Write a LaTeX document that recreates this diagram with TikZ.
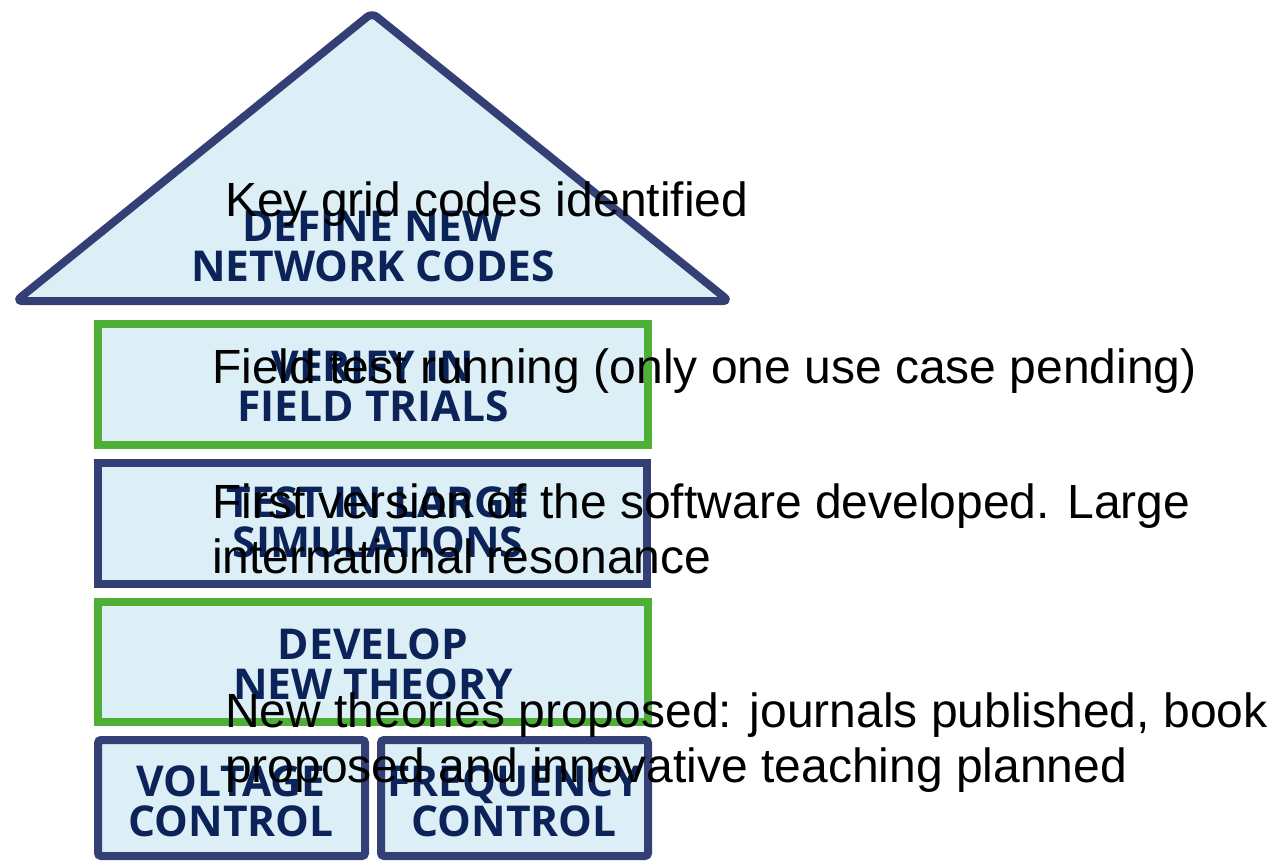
\documentclass[tikz,border=0pt]{standalone}
\usepackage{fontspec}
\setmainfont{Liberation Sans}
\newfontfamily\labelfont{Open Sans}
\definecolor{navyline}{HTML}{343F76}
\definecolor{greenline}{HTML}{4DAF35}
\definecolor{tierfill}{HTML}{DDEFF6}
\definecolor{labelink}{HTML}{0B2358}
\tikzset{
  tier/.style={fill=tierfill, line width=8pt, inner sep=0pt},
  navytier/.style={tier, draw=navyline},
  greentier/.style={tier, draw=greenline, line width=7.5pt},
  tierlabel/.style={align=center, inner sep=0pt, text=labelink,
    font=\labelfont\bfseries\fontsize{42.5}{40}\selectfont},
  note/.style={align=left, inner sep=0pt, text=black, anchor=base west,
    font=\fontsize{48}{55}\selectfont}
}
\begin{document}
\begin{tikzpicture}[x=1pt, y=-1pt]
\useasboundingbox (0,0) rectangle (1281,861);

% roof
\coordinate (apex) at (372,13);
\coordinate (eaveL) at (16,301);
\coordinate (eaveR) at (729,301);
\draw[navytier, rounded corners=6pt, line join=round]
  (apex) -- (eaveR) -- (eaveL) -- cycle;

% storeys
\draw[greentier] (98,324) rectangle (648,445);
\draw[navytier]  (98,463) rectangle (647,584);
\draw[greentier] (98,602) rectangle (648,722);
\draw[navytier, rounded corners=3pt] (98,740) rectangle (365,856);
\draw[navytier, rounded corners=3pt] (381,740) rectangle (648,856);

% storey labels
\node[tierlabel] (roofl) at (373,247) {DEFINE NEW\\NETWORK CODES};
\node[tierlabel] (fieldl) at (373,387) {VERIFY IN\\FIELD TRIALS};
\node[tierlabel] (siml) at (378,522) {TEST IN LARGE\\SIMULATIONS};
\node[tierlabel] (theoryl) at (373,664) {DEVELOP\\NEW THEORY};
\node[tierlabel] (voltl) at (231,801) {VOLTAGE\\CONTROL};
\node[tierlabel] (freql) at (514,801) {FREQUENCY\\CONTROL};

% progress notes (base anchor sits on the last line)
\node[note] (n1) at (225,216) {Key grid codes identified};
\node[note] (n2) at (212,383) {Field test running (only one use case pending)};
\node[note] (n3) at (212,573) {First version of the software developed. Large\\international resonance};
\node[note] (n4) at (225,782) {New theories proposed: journals published, book\\proposed and innovative teaching planned};
\end{tikzpicture}
\end{document}
